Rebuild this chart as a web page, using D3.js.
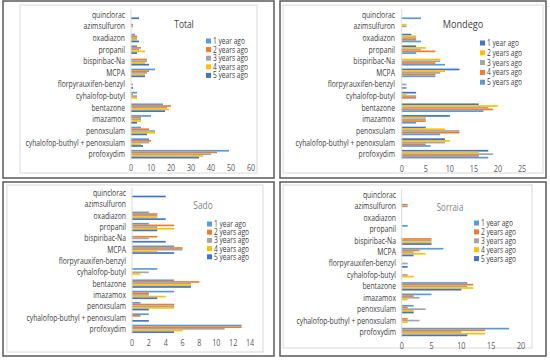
<!DOCTYPE html>
<html>
<head>
<meta charset="utf-8">
<script src="https://cdn.jsdelivr.net/npm/d3@7"></script>
<style>
  html, body { margin: 0; padding: 0; background: #fff; }
  svg { display: block; font-family: "Open Sans", "Noto Sans", sans-serif; }
</style>
</head>
<body>
<svg id="chart" width="550" height="361"></svg>
<script>
// categories, top to bottom as drawn
const categories = [
  "quinclorac", "azimsulfuron", "oxadiazon", "propanil", "bispiribac-Na", "MCPA",
  "florpyrauxifen-benzyl", "cyhalofop-butyl", "bentazone", "imazamox", "penoxsulam",
  "cyhalofop-buthyl + penoxsulam", "profoxydim"
];
const seriesNames = ["1 year ago", "2 years ago", "3 years ago", "4 years ago", "5 years ago"];

// values per series, same order as categories
const totalData = [
  [0, 0, 2, 3, 0, 12, 0, 3, 16, 10, 5, 9, 49],
  [0, 1, 3, 5, 8, 9, 0, 1, 20, 5, 9, 10, 43],
  [0, 1, 3, 4, 8, 8, 1, 3, 18, 5, 12, 9, 40],
  [0, 0, 3, 7, 7, 7, 0, 3, 19, 5, 12, 5, 36],
  [4, 0, 4, 3, 9, 7, 1, 0, 17, 3, 8, 6, 34]
];
const mondegoData = [
  [0, 0, 2, 3, 0, 12, 0, 3, 16, 10, 5, 9, 18],
  [0, 1, 3, 5, 8, 9, 0, 1, 20, 5, 9, 10, 16],
  [0, 1, 3, 4, 8, 8, 1, 3, 18, 5, 12, 9, 19],
  [0, 0, 3, 7, 7, 7, 0, 3, 19, 5, 12, 5, 16],
  [4, 0, 4, 3, 9, 7, 1, 0, 17, 3, 8, 6, 18]
];
const sadoData = [
  [0, 0, 2, 2, 0, 5, 0, 3, 5, 5, 1, 2, 13],
  [0, 0, 3, 5, 3, 6, 0, 0, 8, 2, 5, 1, 13],
  [0, 0, 3, 3, 2, 6, 0, 2, 7, 2, 5, 0, 11],
  [0, 0, 3, 5, 0, 3, 0, 1, 7, 4, 5, 0, 6],
  [4, 0, 4, 3, 4, 5, 0, 0, 7, 3, 2, 2, 5]
];
const sorraiaData = [
  [0, 0, 0, 1, 0, 7, 0, 0, 11, 5, 2, 0, 18],
  [0, 1, 0, 0, 5, 3, 0, 0, 12, 2, 1, 1, 14],
  [0, 1, 0, 0, 5, 2, 1, 1, 11, 3, 4, 3, 10],
  [0, 0, 0, 0, 5, 4, 0, 2, 12, 1, 2, 1, 14],
  [0, 0, 0, 0, 5, 2, 1, 0, 10, 0, 2, 0, 11]
];

const totalTicks = [0, 10, 20, 30, 40, 50, 60];
const mondegoTicks = [0, 5, 10, 15, 20, 25];
const sadoTicks = [0, 2, 4, 6, 8, 10, 12, 14];
const sorraiaTicks = [0, 5, 10, 15, 20];

const officeColors = ["#5B9BD5", "#ED7D31", "#A5A5A5", "#FFC000", "#4472C4"];
const mondegoColors = ["#4472C4", "#FFC000", "#A5A5A5", "#ED7D31", "#5B9BD5"];

// Calibri-ish: squeeze the text a bit horizontally
const SQ = 0.8;

const svg = d3.select("#chart");

// panel frames
const frames = [
  {x: 3, y: 1, w: 271, h: 177},
  {x: 280, y: 1, w: 266, h: 177},
  {x: 3, y: 182, w: 271, h: 174},
  {x: 280, y: 182, w: 266, h: 174}
];
svg.selectAll("rect.frame").data(frames).enter().append("rect")
  .attr("class", "frame")
  .attr("x", d => d.x).attr("y", d => d.y)
  .attr("width", d => d.w).attr("height", d => d.h)
  .attr("fill", "none").attr("stroke", "#595959").attr("stroke-width", 1.5);

const panels = [
  {title: "Total", data: totalData, ticks: totalTicks, colors: officeColors,
   box: [20, 5, 237, 168], xr: [131, 251], yr: [9, 160], tickY: 168, labelX: 125,
   titlePos: [184, 28], titleColor: "#404040", titleSize: 10.5,
   legend: [206, 41, 8.6]},
  {title: "Mondego", data: mondegoData, ticks: mondegoTicks, colors: mondegoColors,
   box: [283, 5, 260, 168], xr: [401.7, 522], yr: [9, 160], tickY: 169, labelX: 395,
   titlePos: [463, 28], titleColor: "#404040", titleSize: 11.5,
   legend: [480, 43, 9.8]},
  {title: "Sado", data: sadoData, ticks: sadoTicks, colors: officeColors,
   box: [7, 185, 256, 167], xr: [132, 250], yr: [187.5, 334.5], tickY: 343, labelX: 126,
   titlePos: [203, 209], titleColor: "#7f7f7f", titleSize: 10.5,
   legend: [207, 224, 8.2]},
  {title: "Sorraia", data: sorraiaData, ticks: sorraiaTicks, colors: officeColors,
   box: [283, 185, 249, 163], xr: [401.7, 521], yr: [189.3, 337.7], tickY: 346, labelX: 396,
   titlePos: [450, 211], titleColor: "#7f7f7f", titleSize: 10,
   legend: [474, 223, 8.9]}
];

panels.forEach(p => {
  const g = svg.append("g");

  g.append("rect")
    .attr("x", p.box[0]).attr("y", p.box[1])
    .attr("width", p.box[2]).attr("height", p.box[3])
    .attr("fill", "#fff").attr("stroke", "#d9d9d9").attr("stroke-width", 1);

  const x = d3.scaleLinear()
    .domain([0, p.ticks[p.ticks.length - 1]])
    .range(p.xr);

  const y0 = d3.scaleBand()
    .domain(categories)
    .range(p.yr)
    .paddingInner(0.26)
    .paddingOuter(0.13);

  const y1 = d3.scaleBand()
    .domain(d3.range(seriesNames.length))
    .range([0, y0.bandwidth()]);

  // bars
  const groups = g.selectAll("g.cat")
    .data(categories)
    .enter().append("g")
    .attr("transform", d => `translate(0,${y0(d)})`);

  groups.selectAll("rect")
    .data((c, ci) => p.data.map((vals, si) => ({si: si, v: vals[ci]})))
    .enter().append("rect")
    .attr("x", x(0))
    .attr("y", d => y1(d.si))
    .attr("width", d => x(d.v) - x(0))
    .attr("height", y1.bandwidth())
    .attr("fill", d => p.colors[d.si]);

  // vertical axis line
  g.append("line")
    .attr("x1", x(0)).attr("x2", x(0))
    .attr("y1", p.yr[0]).attr("y2", p.yr[1])
    .attr("stroke", "#d9d9d9").attr("stroke-width", 1);

  // category labels
  g.selectAll("text.cat")
    .data(categories)
    .enter().append("text")
    .attr("transform", d => `translate(${p.labelX},${y0(d) + y0.bandwidth() / 2}) scale(${SQ},1)`)
    .attr("dy", "0.35em")
    .attr("text-anchor", "end")
    .attr("font-size", 8.5)
    .attr("fill", "#404040")
    .text(d => d);

  // value axis
  g.selectAll("text.tick")
    .data(p.ticks)
    .enter().append("text")
    .attr("transform", d => `translate(${x(d)},${p.tickY}) scale(${SQ},1)`)
    .attr("dy", "0.35em")
    .attr("text-anchor", "middle")
    .attr("font-size", 9)
    .attr("fill", "#595959")
    .text(d => d);

  // title
  g.append("text")
    .attr("transform", `translate(${p.titlePos[0]},${p.titlePos[1]}) scale(${SQ},1)`)
    .attr("text-anchor", "middle")
    .attr("font-size", p.titleSize)
    .attr("fill", p.titleColor)
    .text(p.title);

  // legend
  const lg = g.selectAll("g.leg")
    .data(seriesNames)
    .enter().append("g")
    .attr("transform", (d, i) => `translate(${p.legend[0]},${p.legend[1] + i * p.legend[2]})`);
  lg.append("rect")
    .attr("x", 0).attr("y", -2.5)
    .attr("width", 5).attr("height", 5)
    .attr("fill", (d, i) => p.colors[i]);
  lg.append("text")
    .attr("transform", `translate(7,0) scale(${SQ},1)`)
    .attr("dy", "0.35em")
    .attr("font-size", 8.3)
    .attr("fill", "#404040")
    .text(d => d);
});
</script>
</body>
</html>
